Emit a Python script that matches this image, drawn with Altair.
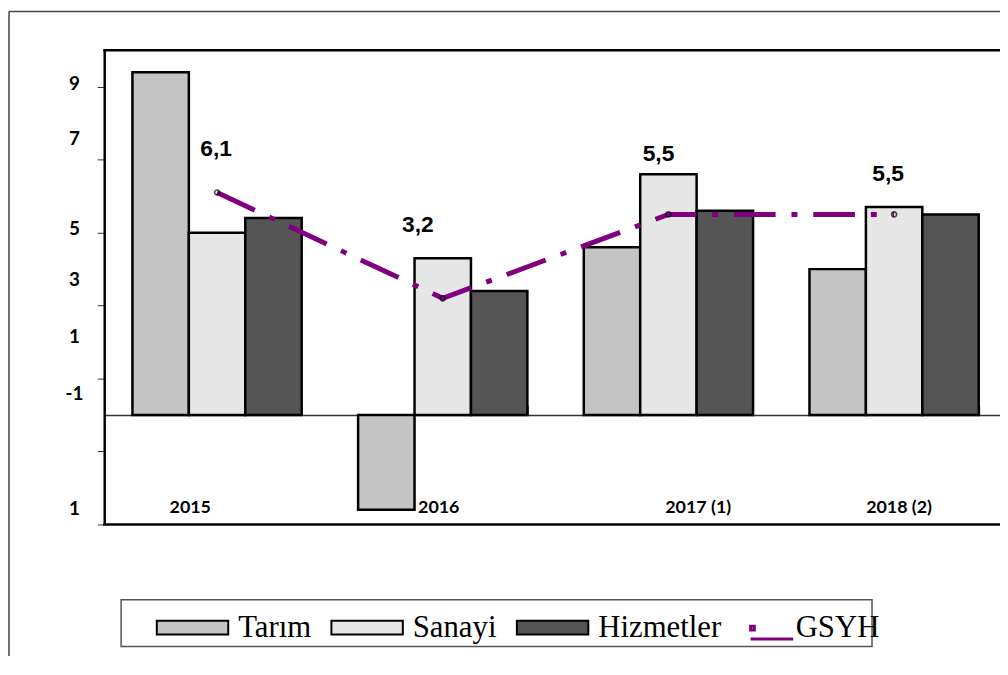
import altair as alt
import pandas as pd

# ---- data ----
years = ["2015", "2016", "2017 (1)", "2018 (2)"]
series = ["Tarım", "Sanayi", "Hizmetler"]
tarim = [9.4, -2.6, 4.6, 4.0]
sanayi = [5.0, 4.3, 6.6, 5.7]
hizmetler = [5.4, 3.4, 5.6, 5.5]
gsyh = [6.1, 3.2, 5.5, 5.5]
y_ticks = [9, 7, 5, 3, 1, -1, -3]
y_tick_labels = ["9", "7", "5", "3", "1", "-1", "1"]

# ---- styles (pixel shifts of the labels as they appear in the reference) ----
y_label_shift = [-3, -21, -4, -26, -42, -58, -16]
x_label_shift = [-27, -4, 30, 5]
gsyh_label_dx = [-1, -25, -10, -6]
gsyh_label_dy = [-44, -74, -61, -41]
fills = ["#c4c4c4", "#e6e6e6", "#555555"]
purple = "#800080"

W_VIEW = 895
X_RANGE = 910
H = 478
Y_DOMAIN = [-3, 10]
PAD_IN, PAD_OUT = 0.25, 0.125
px_per_unit = H / (Y_DOMAIN[1] - Y_DOMAIN[0])
zero_px = px_per_unit * (Y_DOMAIN[1] - 0)
step = X_RANGE / (len(years) - PAD_IN + 2 * PAD_OUT)
half_band = step * (1 - PAD_IN) / 2

vals = {"Tarım": tarim, "Sanayi": sanayi, "Hizmetler": hizmetler}
bar_df = pd.DataFrame(
    [{"year": y, "series": s, "value": vals[s][i]} for s in series for i, y in enumerate(years)]
)
g_df = pd.DataFrame({
    "year": years,
    "value": gsyh,
    "name": ["GSYH"] * len(years),
    "label": [f"{v:.1f}".replace(".", ",") for v in gsyh],
    "ldx": gsyh_label_dx,
    "ldy": gsyh_label_dy,
})
ylab_df = pd.DataFrame({"tick": y_ticks, "txt": y_tick_labels, "sh": y_label_shift})
xlab_df = pd.DataFrame({"year": years, "sh": x_label_shift})
one = pd.DataFrame({"k": [0]})

xscale = alt.Scale(domain=years, range=[0, X_RANGE], paddingInner=PAD_IN, paddingOuter=PAD_OUT)
yscale = alt.Scale(domain=Y_DOMAIN, nice=False, zero=False)

x_axis = alt.Axis(orient="top", offset=-zero_px, labels=False, title=None,
                  tickBand="extent", tickSize=10, tickColor="#444", tickWidth=1,
                  domainColor="#333", domainWidth=1.5, grid=False)
y_axis = alt.Axis(values=y_ticks, labels=False, title=None, tickSize=7,
                  tickColor="#333", tickWidth=1, domainColor="black",
                  domainWidth=2.5, grid=False)

X = lambda: alt.X("year:N", sort=years, scale=xscale, axis=x_axis)

bars = alt.Chart(bar_df).mark_bar(stroke="black", strokeWidth=2.5).encode(
    x=X(),
    xOffset=alt.XOffset("series:N", sort=series,
                        scale=alt.Scale(domain=series, paddingInner=0, paddingOuter=0)),
    y=alt.Y("value:Q", scale=yscale, axis=y_axis),
    fill=alt.Fill("series:N", sort=series,
                  scale=alt.Scale(domain=series, range=fills),
                  legend=alt.Legend(title=None, orient="none", legendX=52, legendY=545,
                                    direction="horizontal",
                                    symbolType="M-1,-0.19H1V0.19H-1Z", symbolSize=5184,
                                    symbolStrokeColor="black", symbolStrokeWidth=2,
                                    symbolOpacity=1,
                                    labelFont="Liberation Serif", labelFontSize=31,
                                    labelColor="black", labelOffset=9, columnPadding=16,
                                    labelLimit=400, padding=0)),
)

line = alt.Chart(g_df).mark_line(strokeWidth=5, strokeDash=[42, 16, 6, 16]).encode(
    x=X(),
    y=alt.Y("value:Q", scale=yscale, axis=y_axis),
    stroke=alt.Stroke("name:N", scale=alt.Scale(domain=["GSYH"], range=[purple]),
                      legend=alt.Legend(title=None, orient="none", legendX=649, legendY=559,
                                        direction="horizontal",
                                        symbolType="M-0.95,-0.09H-0.78V0.09H-0.95Z M-0.95,0.5H1",
                                        symbolSize=1936, symbolStrokeWidth=3,
                                        symbolFillColor="transparent", symbolDash=[1, 0],
                                        labelFont="Liberation Serif", labelFontSize=31,
                                        labelColor="black", labelOffset=1,
                                        labelLimit=400, padding=0)),
)

points = alt.Chart(g_df).mark_point(shape="circle", filled=False, color="black",
                                    size=26, strokeWidth=1.6).encode(
    x=X(),
    y=alt.Y("value:Q", scale=yscale, axis=y_axis),
)

g_labels = alt.Chart(g_df).transform_calculate(
    ly=f"datum.value - datum.ldy / {px_per_unit}",
    lx=f"datum.ldx + {half_band}",
).mark_text(font="Liberation Sans", fontWeight="bold", fontSize=23, color="black",
            baseline="middle", align="center").encode(
    x=X(),
    y=alt.Y("ly:Q", scale=yscale, axis=y_axis),
    xOffset=alt.XOffset("lx:Q", scale=None),
    text="label:N",
)

y_labels = alt.Chart(ylab_df).transform_calculate(
    ly=f"datum.tick - datum.sh / {px_per_unit}",
).mark_text(font="Lato", fontWeight="bold", fontSize=19, color="black",
            align="center", baseline="middle").encode(
    x=alt.value(-30),
    y=alt.Y("ly:Q", scale=yscale, axis=y_axis),
    text="txt:N",
)

x_labels = alt.Chart(xlab_df).transform_calculate(
    lx=f"datum.sh + {half_band}",
).mark_text(font="Lato", fontWeight="bold", fontSize=18, color="black",
            align="center", baseline="middle").encode(
    x=X(),
    y=alt.value(461),
    xOffset=alt.XOffset("lx:Q", scale=None),
    text="year:N",
)

rule = lambda **kw: alt.Chart(one).mark_rule(**kw)
frame_top = rule(color="black", strokeWidth=2.5).encode(
    x=alt.value(-1), x2=alt.value(X_RANGE + 10), y=alt.value(0))
frame_bottom = rule(color="black", strokeWidth=2.5).encode(
    x=alt.value(-1), x2=alt.value(X_RANGE + 10), y=alt.value(H))
outer_left = rule(color="#444", strokeWidth=1.5).encode(
    x=alt.value(-96), y=alt.value(-39), y2=alt.value(H + 200))
outer_top = rule(color="#444", strokeWidth=1.5).encode(
    x=alt.value(-96), x2=alt.value(X_RANGE + 10), y=alt.value(-39))
legend_box = alt.Chart(one).mark_rect(fill="transparent", stroke="#555",
                                      strokeWidth=1.5).encode(
    x=alt.value(17), x2=alt.value(774), y=alt.value(554), y2=alt.value(601))

chart = alt.layer(
    bars, line, points, g_labels, y_labels, x_labels,
    frame_top, frame_bottom, outer_left, outer_top, legend_box,
).properties(
    width=W_VIEW, height=H,
    padding={"left": 97, "top": 40, "right": 8, "bottom": 130},
    autosize="none",
    background="white",
).configure_view(strokeWidth=0)

chart.save("out.html", embed_options={"renderer": "svg", "actions": False})
